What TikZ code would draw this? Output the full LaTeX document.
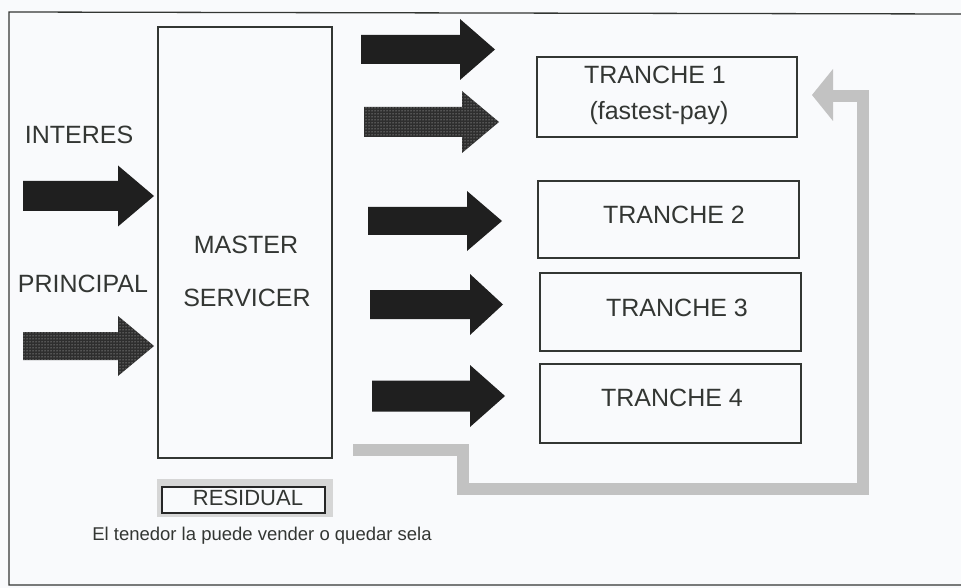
\documentclass[tikz,border=0pt]{standalone}
\usepackage{fontspec}
\setmainfont{Liberation Sans}
\usetikzlibrary{patterns}
\definecolor{bgcol}{rgb}{0.975,0.98,0.99}
\definecolor{ink}{rgb}{0.2,0.21,0.2}
\newcommand\blockarrow[7]{%
  \fill[#1] (#2,#5-#6) -- (#3,#5-#6) -- (#3,#5-#7) -- (#4,#5) -- (#3,#5+#7) -- (#3,#5+#6) -- (#2,#5+#6) -- cycle;}
\begin{document}
\begin{tikzpicture}[x=1pt,y=-1pt,
  frame/.style={draw=ink, line width=1.3pt},
  boxnode/.style={draw=ink, line width=1.4pt, fill=bgcol, inner sep=0pt},
  lbl/.style={text=ink, font=\fontsize{25}{30}\selectfont, inner sep=0pt},
  solidarrow/.style={fill=black!88},
  checkarrow/.style={fill=black!82},
  checkdots/.style={pattern=dots, pattern color=white!85!black},
  feedback/.style={draw=black!24, line width=12pt},
  feedhead/.style={fill=black!24}]
\fill[bgcol] (0,0) rectangle (961,588);
\useasboundingbox (0,0) rectangle (961,588);
% frame
\draw[frame] (961,14) -- (9,12) -- (9,585) -- (961,585);
% master servicer
\node[boxnode, minimum width=174pt, minimum height=431pt] (master) at (245,242.5) {};
\node[lbl] (mtext1) at (246,245) {MASTER};
\node[lbl] (mtext2) at (247,298) {SERVICER};
% inputs
\node[lbl] (interes) at (79,135) {INTERES};
\node[lbl] (principal) at (83,284) {PRINCIPAL};
\blockarrow{solidarrow}{23}{118}{154}{196}{15}{30.5}
\blockarrow{checkarrow}{23}{118}{154}{346}{14}{30}
\blockarrow{checkdots}{23}{118}{154}{346}{14}{30}
% outputs
\blockarrow{solidarrow}{361}{460}{495}{49.5}{14.5}{30.5}
\blockarrow{checkarrow}{364}{462}{499}{122}{15}{31}
\blockarrow{checkdots}{364}{462}{499}{122}{15}{31}
\blockarrow{solidarrow}{368}{467}{502}{221}{14}{30}
\blockarrow{solidarrow}{370}{470}{503}{304.5}{14.5}{30.5}
\blockarrow{solidarrow}{372}{470}{505}{396}{15.5}{31}
% tranches
\node[boxnode, minimum width=260pt, minimum height=80pt] (t1) at (667,97) {};
\node[boxnode, minimum width=261pt, minimum height=77pt] (t2) at (668.5,219.5) {};
\node[boxnode, minimum width=261pt, minimum height=78pt] (t3) at (670.5,312) {};
\node[boxnode, minimum width=261pt, minimum height=79pt] (t4) at (670.5,403.5) {};
\node[lbl] (t1a) at (655,75) {TRANCHE 1};
\node[lbl] (t1b) at (659,113) {(fastest-pay)};
\node[lbl] (t2a) at (674,215) {TRANCHE 2};
\node[lbl] (t3a) at (677,308) {TRANCHE 3};
\node[lbl] (t4a) at (672,398) {TRANCHE 4};
% feedback arrow
\coordinate (fbstart) at (353,450);
\coordinate (fbend) at (833,96);
\draw[feedback] (fbstart) -- (463,450) -- (463,489) -- (863,489) -- (863,96) -- (fbend);
\fill[feedhead] (833,69) -- (812,95) -- (833,121) -- cycle;
% residual
\node[fill=black!16, minimum width=176pt, minimum height=38pt, inner sep=0pt] (resout) at (245,498) {};
\node[draw=black!85, line width=2.5pt, fill=bgcol, minimum width=163pt, minimum height=26pt, inner sep=0pt] (residual) at (243.5,500) {};
\node[lbl, font=\fontsize{22}{26}\selectfont] (restext) at (248,498) {RESIDUAL};
\node[lbl, font=\fontsize{18.5}{22}\selectfont] (caption) at (262,536) {El tenedor la puede vender o quedar sela};
\end{tikzpicture}
\end{document}
